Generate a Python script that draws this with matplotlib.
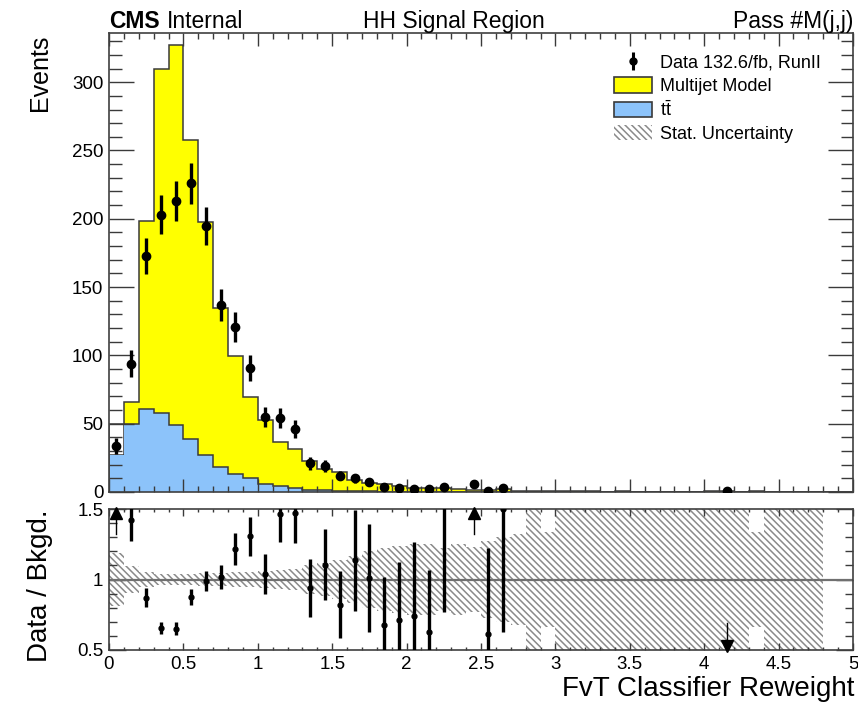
import numpy as np
import matplotlib.pyplot as plt
from matplotlib.patches import Patch
from matplotlib.lines import Line2D
from matplotlib.ticker import MultipleLocator, FuncFormatter

plt.rcParams['font.family'] = ['Liberation Sans', 'DejaVu Sans']
plt.rcParams['mathtext.fontset'] = 'custom'
plt.rcParams['mathtext.rm'] = 'Liberation Sans'
plt.rcParams['hatch.linewidth'] = 1.1

## Binning: 50 bins of 0.1 from 0 to 5
edges = np.round(np.arange(0, 5.01, 0.1), 2)
centers = 0.5 * (edges[:-1] + edges[1:])

## Observed events per bin
data = [34, 94, 173, 203, 213, 226, 195, 137, 121, 91,
        55, 54, 46, 21, 19, 12, 10, 7, 4, 3,
        2, 2, 4, 0, 6, 1, 3, 0, 0, 0,
        0, 0, 0, 0, 0, 0, 0, 0, 0, 0,
        0, 1, 0, 0, 0, 0, 0, 0, 0, 0]

## ttbar prediction
ttbar = [49.8, 49.8, 60.5, 58.0, 49.0, 38.5, 27.1, 18.5, 13.2, 10.0,
         5.9, 4.4, 3.0, 1.6, 1.2, 0.8, 0.6, 0.4, 0.3, 0.2,
         0.2, 0.1, 0.1, 0.1, 0.1, 0.1, 0.1, 0.0, 0.0, 0.0,
         0, 0, 0, 0, 0, 0, 0, 0, 0, 0,
         0, 0, 0, 0, 0, 0, 0, 0, 0, 0]

## total background (multijet + ttbar); multijet is negative in the first bin
bkg_total = [27.1, 66.1, 198.5, 309.3, 327.0, 257.6, 197.8, 134.4, 99.5, 69.7,
             53.0, 36.8, 31.2, 22.4, 17.2, 14.6, 8.8, 6.9, 5.9, 4.2,
             2.7, 3.2, 2.6, 2.2, 1.5, 1.64, 2.0, 1.0, 0.6, 0.9,
             0.5, 0.4, 0.5, 0.3, 0.4, 0.3, 0.3, 0.3, 0.2, 0.3,
             0.4, 1.0, 0.3, 0.8, 0.2, 0.3, 0.2, 0.2, 0.0, 0.0]

## Data / Bkgd. ratio and its error (nan = no entry)
nan = np.nan
ratio = [1.89, 1.42, 0.872, 0.656, 0.651, 0.877, 0.986, 1.019, 1.216, 1.306,
         1.038, 1.467, 1.474, 0.937, 1.105, 0.822, 1.136, 1.014, 0.678, 0.714,
         0.741, 0.625, 1.54, nan, 4.0, 0.61, 1.5, nan, nan, nan,
         nan, nan, nan, nan, nan, nan, nan, nan, nan, nan,
         nan, 0.476, nan, nan, nan, nan, nan, nan, nan, nan]
ratio_err = [0.32, 0.147, 0.066, 0.046, 0.045, 0.058, 0.071, 0.087, 0.111, 0.137,
             0.140, 0.200, 0.217, 0.205, 0.253, 0.237, 0.359, 0.383, 0.339, 0.412,
             0.524, 0.442, 0.77, nan, 1.63, 0.61, 0.87, nan, nan, nan,
             nan, nan, nan, nan, nan, nan, nan, nan, nan, nan,
             nan, 0.476, nan, nan, nan, nan, nan, nan, nan, nan]

## relative stat. uncertainty of the background (ratio band half width)
stat_unc = [0.19, 0.095, 0.055, 0.04, 0.04, 0.04, 0.045, 0.045, 0.05, 0.055,
            0.06, 0.07, 0.075, 0.10, 0.12, 0.14, 0.17, 0.20, 0.22, 0.24,
            0.25, 0.25, 0.22, 0.25, 0.23, 0.27, 0.30, 0.32, 0.8, 0.34,
            0.8, 0.8, 0.8, 0.8, 0.8, 0.8, 0.8, 0.8, 0.8, 0.8,
            0.8, 0.8, 0.8, 0.34, 0.8, 0.8, 0.8, 0.8, nan, nan]

data = np.array(data, dtype=float)
ttbar = np.array(ttbar)
bkg_total = np.array(bkg_total)
ratio = np.array(ratio)
ratio_err = np.array(ratio_err)
stat_unc = np.array(stat_unc)

yellow = '#ffff00'
blue = '#8cc3fa'
edge = '#3a3a3a'
hatch_col = '#8a8a8a'
hatch = '\\\\\\\\\\'

W, H = 858, 709
fig = plt.figure(figsize=(W / 100, H / 100), dpi=100)
ax = fig.add_axes([109 / W, 1 - 492 / H, 744 / W, 459 / H])
rax = fig.add_axes([109 / W, 1 - 650 / H, 744 / W, 141 / H])

## Stacked backgrounds (ttbar fill stops at the stack total)
ax.stairs(bkg_total, edges, fill=True, facecolor=yellow, edgecolor='none')
ax.stairs(bkg_total, edges, color=edge, lw=1.1)
ax.stairs(np.minimum(ttbar, bkg_total), edges, fill=True, facecolor=blue, edgecolor='none')
ax.stairs(ttbar, edges, color=edge, lw=1.1)

## Data
m = data > 0
ax.errorbar(centers[m], data[m], yerr=np.sqrt(data[m]), fmt='o', color='black',
            ms=6, elinewidth=2.4, capsize=0, zorder=5)

ax.set_xlim(0, 5)
ax.set_ylim(0, 336)
ax.xaxis.set_major_locator(MultipleLocator(0.5))
ax.xaxis.set_minor_locator(MultipleLocator(0.1))
ax.yaxis.set_major_locator(MultipleLocator(50))
ax.yaxis.set_minor_locator(MultipleLocator(10))
ax.tick_params(axis='both', which='both', direction='in', top=True, right=True,
               color=edge, width=1.0, labelsize=13.5, pad=4)
ax.tick_params(axis='x', which='major', length=9.5, labelbottom=False)
ax.tick_params(axis='x', which='minor', length=4.5)
ax.tick_params(axis='y', which='major', length=18)
ax.tick_params(axis='y', which='minor', length=9)

## Legend
data_handle = (Line2D([], [], marker='|', ms=13, mew=2.2, color='black', ls='none'),
               Line2D([], [], marker='o', ms=5, color='black', ls='none'))
handles = [data_handle,
           Patch(facecolor=yellow, edgecolor=edge, lw=1.2),
           Patch(facecolor=blue, edgecolor=edge, lw=1.2),
           Patch(facecolor='none', edgecolor=hatch_col, hatch=hatch, lw=0)]
labels = ['Data 132.6/fb, RunII', 'Multijet Model', r'$\mathrm{t\bar{t}}$', 'Stat. Uncertainty']
fig.legend(handles, labels, loc='upper left', bbox_to_anchor=(614 / W, 1 - 54 / H),
           frameon=False, fontsize=13, handlelength=2.1, handleheight=0.95,
           handletextpad=0.45, labelspacing=0.28, borderpad=0, borderaxespad=0)

## Ratio panel
rax.bar(centers, 2 * stat_unc, bottom=1 - stat_unc, width=0.1, facecolor='none',
        edgecolor=hatch_col, hatch=hatch, lw=0)
rax.axhline(1.0, color='#707070', lw=1.6)

has = ~np.isnan(ratio)
up = has & (ratio - np.nan_to_num(ratio_err) > 1.5)
down = has & (ratio < 0.5)
pts = has & ~up & ~down
rax.errorbar(centers[pts], ratio[pts], yerr=ratio_err[pts], fmt='o', color='black', ms=3.5,
             elinewidth=2.4, capsize=0, zorder=5)
for x in centers[up]:
    rax.plot([x, x], [1.32, 1.46], color='black', lw=1.0)
    rax.plot(x, 1.475, marker='^', color='black', ms=8, clip_on=False, zorder=6)
for x in centers[down]:
    rax.plot([x, x], [0.54, 0.69], color='black', lw=1.0)
    rax.plot(x, 0.525, marker='v', color='black', ms=8, clip_on=False, zorder=6)

rax.set_xlim(0, 5)
rax.set_ylim(0.5, 1.5)
rax.xaxis.set_major_locator(MultipleLocator(0.5))
rax.xaxis.set_minor_locator(MultipleLocator(0.1))
rax.yaxis.set_major_locator(MultipleLocator(0.5))
rax.yaxis.set_minor_locator(MultipleLocator(0.1))
fmt = FuncFormatter(lambda v, p: f'{v:g}')
rax.xaxis.set_major_formatter(fmt)
rax.yaxis.set_major_formatter(fmt)
rax.tick_params(axis='both', which='both', direction='in', top=True, right=True,
                color=edge, width=1.0, labelsize=13.5, pad=4)
rax.tick_params(axis='x', which='major', length=5)
rax.tick_params(axis='x', which='minor', length=2.5)
rax.tick_params(axis='y', which='major', length=12)
rax.tick_params(axis='y', which='minor', length=6)

for a in (ax, rax):
    for s in a.spines.values():
        s.set_color('#404040')
        s.set_linewidth(1.2)

## Labels and headers
fig.text(40 / W, 1 - 35 / H, 'Events', rotation=90, ha='center', va='top', fontsize=18)
fig.text(40 / W, 1 - 586 / H, 'Data / Bkgd.', rotation=90, ha='center', va='center', fontsize=20)
fig.text(854 / W, 1 - 689 / H, 'FvT Classifier Reweight', ha='right', va='center', fontsize=20)
fig.text(109 / W, 1 - 28 / H, 'CMS', fontsize=16.5, fontweight='bold', va='baseline')
fig.text(167 / W, 1 - 28 / H, 'Internal', fontsize=16.5, va='baseline')
fig.text(454 / W, 1 - 28 / H, 'HH Signal Region', fontsize=16.5, ha='center', va='baseline')
fig.text(853 / W, 1 - 28 / H, 'Pass #M(j,j)', fontsize=16.5, ha='right', va='baseline')

fig.savefig('out.png', dpi=100)
